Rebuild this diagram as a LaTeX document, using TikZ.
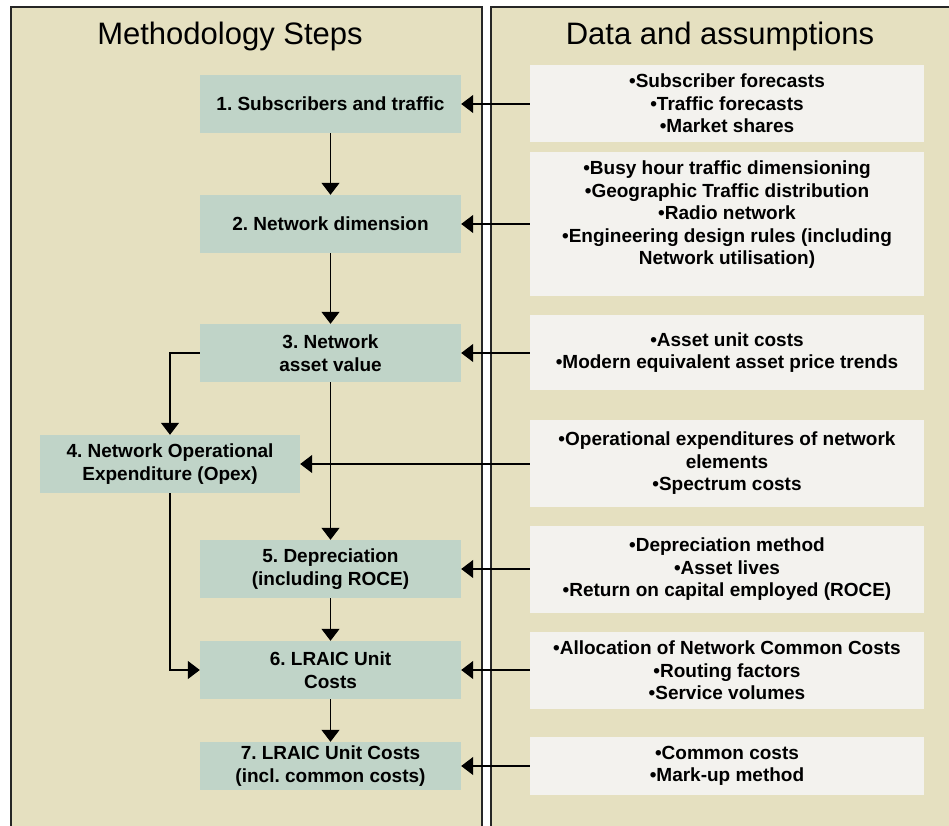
\documentclass[tikz,border=0pt]{standalone}
\usepackage{fontspec}
\setmainfont{Liberation Sans}
\usetikzlibrary{arrows.meta}
\definecolor{panelfill}{HTML}{E5E0C0}
\definecolor{stepfill}{HTML}{C0D4C8}
\definecolor{datafill}{HTML}{F3F2EE}
\frenchspacing
\begin{document}
\begin{tikzpicture}[x=1pt,y=-1pt,
  panel/.style={fill=panelfill,draw=black!85,line width=1.6pt},
  heading/.style={font=\fontsize{31}{36}\selectfont},
  stepbox/.style={fill=stepfill,minimum width=261pt,minimum height=58pt,
    inner sep=0pt,align=center,font=\fontsize{19}{22.5}\selectfont\bfseries},
  databox/.style={fill=datafill,minimum width=394pt,inner sep=0pt,
    align=center,font=\fontsize{19}{22.5}\selectfont\bfseries},
  datatext/.style={align=center,inner sep=0pt,font=\fontsize{19}{22.5}\selectfont\bfseries},
  arr/.style={-{Triangle[length=12pt,width=18pt]},line width=1.1pt,draw=black}
]
\useasboundingbox (0,0) rectangle (949,826);
\fill[white] (0,0) rectangle (949,826);
\clip (0,0) rectangle (949,826);

% the two column panels
\draw[panel] (11,7) rectangle (482,845);
\draw[panel] (491,7) rectangle (965,845);

\node[heading] (h1) at (230,36) {Methodology Steps};
\node[heading] (h2) at (720,36) {Data and assumptions};

% methodology steps
\node[stepbox] (b1) at (330.5,104) {1. Subscribers and traffic};
\node[stepbox] (b2) at (330.5,224) {2. Network dimension};
\node[stepbox] (b3) at (330.5,353) {3. Network\\asset value};
\node[stepbox,minimum width=260pt] (b4) at (170,464) {4. Network Operational\\Expenditure (Opex)};
\node[stepbox] (b5) at (330.5,569) {5. Depreciation\\(including ROCE)};
\node[stepbox] (b6) at (330.5,670) {6. LRAIC Unit\\Costs};
\node[stepbox,minimum height=48pt] (b7) at (330.5,766) {7. LRAIC Unit Costs\\(incl. common costs)};

% data and assumptions
\node[databox,minimum height=77pt] (r1) at (727,103.5)
  {•Subscriber forecasts\\•Traffic forecasts\\•Market shares};
\node[databox,minimum height=144pt] (r2) at (727,224) {};
\node[datatext] (r2t) at (727,215)
  {•Busy hour traffic dimensioning\\•Geographic Traffic distribution\\•Radio network\\•Engineering design rules (including\\Network utilisation)};
\node[databox,minimum height=75pt] (r3) at (727,352.5)
  {•Asset unit costs\\•Modern equivalent asset price trends};
\node[databox,minimum height=87pt] (r4) at (727,463.5)
  {•Operational expenditures of network\\elements\\•Spectrum costs};
\node[databox,minimum height=87pt] (r5) at (727,569.5)
  {•Depreciation method\\•Asset lives\\•Return on capital employed (ROCE)};
\node[databox,minimum height=77pt] (r6) at (727,670.5)
  {•Allocation of Network Common Costs\\•Routing factors\\•Service volumes};
\node[databox,minimum height=58pt] (r7) at (727,766)
  {•Common costs\\•Mark-up method};

% flow between steps
\draw[arr] (b1.south) -- (b2.north);
\draw[arr] (b2.south) -- (b3.north);
\draw[arr] (b3.south) -- (b5.north);
\draw[arr] (b3.west) -| (b4.north);
\draw[arr] (b4.south) |- (b6.west);
\draw[arr] (b5.south) -- (b6.north);
\draw[arr] (b6.south) -- (b7.north);

% inputs feeding each step
\draw[arr] (b1.east -| r1.west) -- (b1.east);
\draw[arr] (b2.east -| r2.west) -- (b2.east);
\draw[arr] (b3.east -| r3.west) -- (b3.east);
\draw[arr] (b4.east -| r4.west) -- (b4.east);
\draw[arr] (b5.east -| r5.west) -- (b5.east);
\draw[arr] (b6.east -| r6.west) -- (b6.east);
\draw[arr] (b7.east -| r7.west) -- (b7.east);
\end{tikzpicture}
\end{document}
